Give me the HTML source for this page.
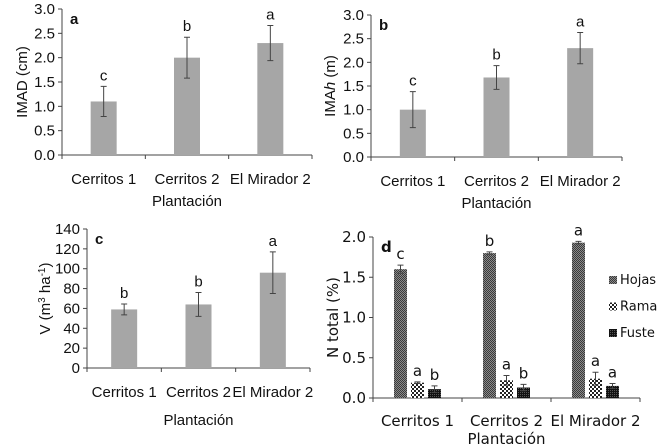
<!DOCTYPE html>
<html><head><meta charset="utf-8"><style>
html,body{margin:0;padding:0;background:#fff;}
svg{display:block;}
.ar{font-family:"Liberation Sans",Arial,sans-serif;}
.vd{font-family:"DejaVu Sans",Verdana,sans-serif;}
</style></head><body>
<svg id="chart" width="665" height="447" viewBox="0 0 665 447" xmlns="http://www.w3.org/2000/svg">
<defs>
<pattern id="pHojas" width="2" height="2" patternUnits="userSpaceOnUse"><rect width="2" height="2" fill="#8a8a8a"/><rect width="1" height="1" fill="#3a3a3a"/><rect x="1" y="1" width="1" height="1" fill="#3a3a3a"/></pattern>
<pattern id="pRama" width="4" height="4" patternUnits="userSpaceOnUse"><rect width="4" height="4" fill="#fff"/><rect width="2" height="2" fill="#222"/><rect x="2" y="2" width="2" height="2" fill="#222"/></pattern>
<pattern id="pFuste" width="2" height="2" patternUnits="userSpaceOnUse"><rect width="2" height="2" fill="#111"/><rect width="1" height="1" fill="#555"/></pattern>
</defs>
</svg>
<script>
const categories = ["Cerritos 1","Cerritos 2","El Mirador 2"];
const aValues = [1.1, 2.0, 2.3];
const aErrors = [0.31, 0.42, 0.36];
const aLetters = ["c","b","a"];
const aTicks = ["0.0","0.5","1.0","1.5","2.0","2.5","3.0"];
const bValues = [1.0, 1.68, 2.3];
const bErrors = [0.38, 0.25, 0.33];
const bLetters = ["c","b","a"];
const bTicks = ["0.0","0.5","1.0","1.5","2.0","2.5","3.0"];
const cValues = [59, 64, 96];
const cErrors = [5.5, 12, 21];
const cLetters = ["b","b","a"];
const cTicks = ["0","20","40","60","80","100","120","140"];
const dSeries = ["Hojas","Rama","Fuste"];
const dHojas = [1.6, 1.8, 1.93];
const dHojasErr = [0.05, 0.015, 0.015];
const dHojasLetters = ["c","b","a"];
const dRama = [0.19, 0.22, 0.24];
const dRamaErr = [0.01, 0.06, 0.08];
const dRamaLetters = ["a","a","a"];
const dFuste = [0.11, 0.13, 0.15];
const dFusteErr = [0.04, 0.04, 0.03];
const dFusteLetters = ["b","b","a"];
const dTicks = ["0.0","0.5","1.0","1.5","2.0"];

const svg = document.getElementById('chart');
const NS = 'http://www.w3.org/2000/svg';
function mk(tag, attrs, parent, text){
  const e = document.createElementNS(NS, tag);
  for (const k in attrs) e.setAttribute(k, attrs[k]);
  if (text !== undefined) e.textContent = text;
  (parent || svg).appendChild(e);
  return e;
}

function panel(p){
  const g = mk('g', {class: p.font});
  
  
  const ticks = p.ticks.map(Number);
  const max = ticks[ticks.length-1];
  const y = v => p.y0 - (v / max) * (p.y0 - p.yTop);
  const n = categories.length;
  const bw = (p.x1 - p.x0) / n;
  const xc = i => p.x0 + bw * (i + 0.5);
  // axes
  const ya = mk('line', {x1:p.x0, y1:p.yTop, x2:p.x0, y2:p.y0, stroke:'#444', 'stroke-width':1}, g);
   
  const xa = mk('line', {x1:p.x0, y1:p.y0, x2:p.x1, y2:p.y0, stroke:'#444', 'stroke-width':1}, g);
   
  p.ticks.forEach((t, i) => {
    const yy = y(ticks[i]);
    mk('line', {x1:p.x0-4, y1:yy, x2:p.x0, y2:yy, stroke:'#444'}, g);
    const tl = mk('text', {x:p.x0-7, y:yy+5, 'text-anchor':'end', 'font-size':p.fs, fill:'#111'}, g, t);
     
  });
  for (let i = 0; i <= n; i++) {
    const xx = p.x0 + bw * i;
    mk('line', {x1:xx, y1:p.y0, x2:xx, y2:p.y0+4, stroke:'#444'}, g);
  }
  categories.forEach((c, i) => {
    const tl = mk('text', {x:xc(i), y:p.y0+p.catDy, 'text-anchor':'middle', 'font-size':p.fs, fill:'#111'}, g, c);
     
  });
  const xt = mk('text', {x:(p.x0+p.x1)/2, y:p.y0+p.titleDy, 'text-anchor':'middle', 'font-size':p.fs, fill:'#111'}, g, 'Plantación');
   
  const yt = mk('text', {x:0, y:0, 'text-anchor':'middle', 'font-size':p.fs, fill:'#111', transform:'translate(' + p.yTitleX + ',' + (p.y0+p.yTop)/2 + ') rotate(-90)'}, g);
  p.yTitle(yt);
   
  const pl = mk('text', {x:p.x0+8, y:p.yTop+15, 'font-size':15, 'font-weight':'bold', fill:'#111'}, g, p.id);
   
  // series
  p.series.forEach((s, si) => {
    s.values.forEach((v, i) => {
      const cx = xc(i) + (si - (p.series.length-1)/2) * p.step;
      const r = mk('rect', {x:cx - p.barW/2, y:y(v), width:p.barW, height:p.y0 - y(v), fill:s.fill}, g);
      
      
      const e = s.errors[i];
      const eb = mk('path', {d:'M'+cx+','+y(v+e)+'V'+y(v-e)+'M'+(cx-3)+','+y(v+e)+'H'+(cx+3)+'M'+(cx-3)+','+y(v-e)+'H'+(cx+3), stroke:'#444', 'stroke-width':1, fill:'none'}, g);
      
      
      const lt = mk('text', {x:cx, y:y(v+e)-6, 'text-anchor':'middle', 'font-size':p.fs, fill:'#111'}, g, s.letters[i]);
      
      
    });
  });
  return g;
}

panel({id:'a', font:'ar', fs:15, x0:62, x1:312, yTop:9, y0:155, catDy:29, titleDy:51, yTitleX:27, barW:26, step:0,
  ticks:aTicks, yTitle:t=>{t.textContent='IMAD (cm)';},
  series:[{name:'imad', values:aValues, errors:aErrors, letters:aLetters, fill:'#a6a6a6'}]});
panel({id:'b', font:'ar', fs:15, x0:371, x1:622, yTop:15, y0:157, catDy:29, titleDy:51, yTitleX:335, barW:26, step:0,
  ticks:bTicks, yTitle:t=>{t.appendChild(document.createTextNode('IMA'));const s=mk('tspan',{'font-style':'italic'},t,'h');t.appendChild(document.createTextNode(' (m)'));},
  series:[{name:'imah', values:bValues, errors:bErrors, letters:bLetters, fill:'#a6a6a6'}]});
panel({id:'c', font:'ar', fs:15, x0:87, x1:310, yTop:229, y0:368, catDy:29, titleDy:57, yTitleX:50, barW:26, step:0,
  ticks:cTicks, yTitle:t=>{t.appendChild(document.createTextNode('V (m'));mk('tspan',{'font-size':10,dy:-5},t,'3');mk('tspan',{dy:5},t,' ha');mk('tspan',{'font-size':10,dy:-5},t,'-1');mk('tspan',{dy:5},t,')');},
  series:[{name:'v', values:cValues, errors:cErrors, letters:cLetters, fill:'#a6a6a6'}]});
panel({id:'d', font:'vd', fs:15, x0:373, x1:640, yTop:237, y0:398, catDy:28, titleDy:46, yTitleX:338, barW:13, step:17,
  ticks:dTicks, yTitle:t=>{t.textContent='N total (%)';},
  series:[
    {name:'hojas', values:dHojas, errors:dHojasErr, letters:dHojasLetters, fill:'url(#pHojas)'},
    {name:'rama', values:dRama, errors:dRamaErr, letters:dRamaLetters, fill:'url(#pRama)'},
    {name:'fuste', values:dFuste, errors:dFusteErr, letters:dFusteLetters, fill:'url(#pFuste)'}]});

// legend
const fills = ['url(#pHojas)','url(#pRama)','url(#pFuste)'];
dSeries.forEach((s, i) => {
  const ly = 284 + i * 26.5;
  const lg = mk('g', {class:'vd'});
  
  
  mk('rect', {x:609, y:ly-8, width:8, height:8, fill:fills[i]}, lg);
  mk('text', {x:620, y:ly, 'font-size':13, fill:'#111'}, lg, s);
});
</script>
</body></html>
